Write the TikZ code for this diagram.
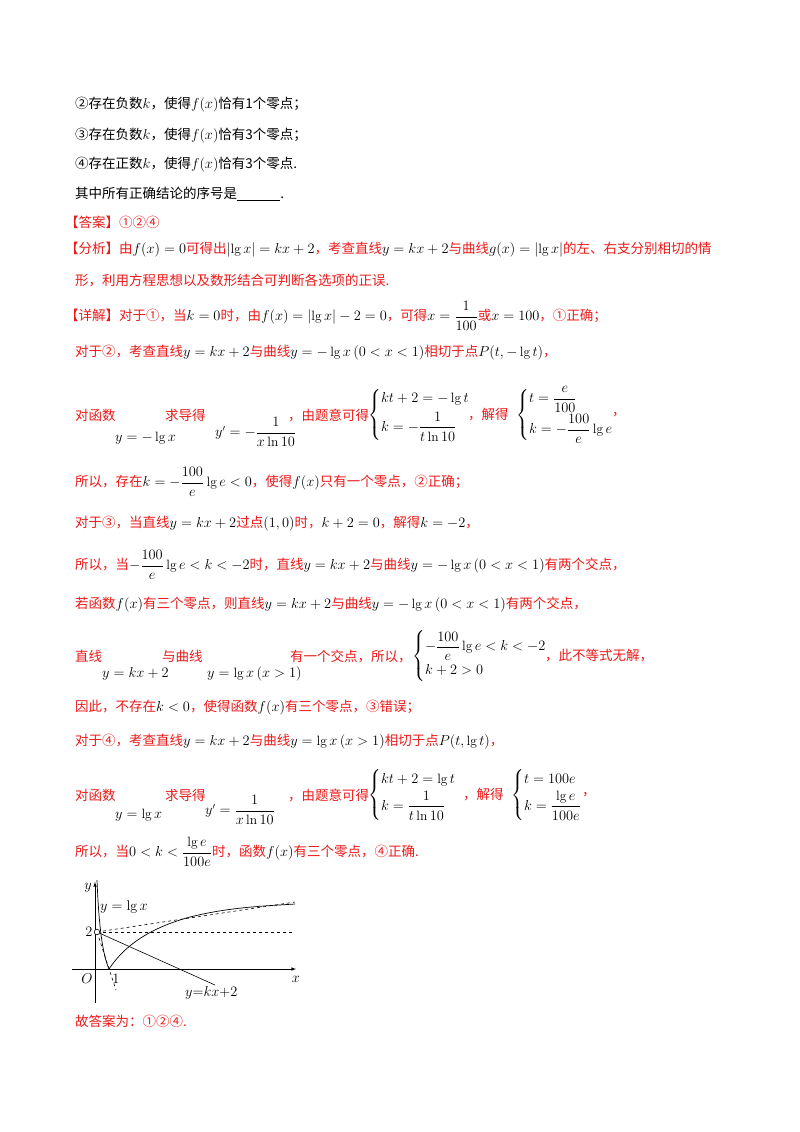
\documentclass[tikz,border=0pt]{standalone}
\usepackage{amsmath}
\usepackage{fontspec}
\newfontfamily\cjk{Noto Sans CJK SC}
\definecolor{rd}{RGB}{235,25,25}
\begin{document}
\begin{tikzpicture}[x=1pt,y=-1pt,
  t/.style={anchor=west,inner sep=0pt,font=\cjk\fontsize{13.5}{16}\selectfont},
  r/.style={t,text=rd},
  g/.style={font=\fontsize{14}{16}\selectfont}]
\useasboundingbox (0,0) rectangle (800,1132);
\node[t] (l1) at (75,105) {②存在负数$k$，使得$f(x)$恰有1个零点；};
\node[t] (l2) at (75,136) {③存在负数$k$，使得$f(x)$恰有3个零点；};
\node[t] (l3) at (75,165) {④存在正数$k$，使得$f(x)$恰有3个零点.};
\node[t] (l4) at (75,194) {其中所有正确结论的序号是\underline{\hspace{3.2em}}.};
\node[r] (l5) at (65,222) {【答案】①②④};
\node[r] (l6) at (65,250) {【分析】由\textcolor{black}{$f(x)=0$}可得出\textcolor{black}{$\left|\lg x\right|=kx+2$}，考查直线\textcolor{black}{$y=kx+2$}与曲线\textcolor{black}{$g(x)=\left|\lg x\right|$}的左、右支分别相切的情};
\node[r] (l7) at (75,280) {形，利用方程思想以及数形结合可判断各选项的正误.};
\node[r] (l8) at (65,316) {【详解】对于①，当\textcolor{black}{$k=0$}时，由\textcolor{black}{$f(x)=\left|\lg x\right|-2=0$}，可得\textcolor{black}{$x=\dfrac{1}{100}$}或\textcolor{black}{$x=100$}，①正确；};
\node[r] (l9) at (75,353) {对于②，考查直线\textcolor{black}{$y=kx+2$}与曲线\textcolor{black}{$y=-\lg x\,(0<x<1)$}相切于点\textcolor{black}{$P(t,-\lg t)$}，};
% block 1
\node[r] (a1) at (75,415) {对函数};
\node[t] (a2) at (115,438) {$y=-\lg x$};
\node[r] (a3) at (165,415) {求导得};
\node[t] (a4) at (215,432) {$y'=-\dfrac{1}{x\ln 10}$};
\node[r] (a5) at (288,415) {，由题意可得};
\node[t] (a6) at (368,415) {$\begin{cases}kt+2=-\lg t\\[4pt] k=-\dfrac{1}{t\ln 10}\end{cases}$};
\node[r] (a7) at (468,415) {，解得};
\node[t] (a8) at (516,415) {$\begin{cases}t=\dfrac{e}{100}\\[6pt] k=-\dfrac{100}{e}\lg e\end{cases}$};
\node[r] (a9) at (612,415) {，};
\node[r] (l10) at (75,482) {所以，存在\textcolor{black}{$k=-\dfrac{100}{e}\lg e<0$}，使得\textcolor{black}{$f(x)$}只有一个零点，②正确；};
\node[r] (l11) at (75,524) {对于③，当直线\textcolor{black}{$y=kx+2$}过点\textcolor{black}{$(1,0)$}时，\textcolor{black}{$k+2=0$}，解得\textcolor{black}{$k=-2$}，};
\node[r] (l12) at (75,565) {所以，当\textcolor{black}{$-\dfrac{100}{e}\lg e<k<-2$}时，直线\textcolor{black}{$y=kx+2$}与曲线\textcolor{black}{$y=-\lg x\,(0<x<1)$}有两个交点，};
\node[r] (l13) at (75,605) {若函数\textcolor{black}{$f(x)$}有三个零点，则直线\textcolor{black}{$y=kx+2$}与曲线\textcolor{black}{$y=-\lg x\,(0<x<1)$}有两个交点，};
% block 2
\node[r] (b1) at (75,656) {直线};
\node[t] (b2) at (102,674) {$y=kx+2$};
\node[r] (b3) at (162,656) {与曲线};
\node[t] (b4) at (207,674) {$y=\lg x\,(x>1)$};
\node[r] (b5) at (290,656) {有一个交点，所以，};
\node[t] (b6) at (412,656) {$\begin{cases}-\dfrac{100}{e}\lg e<k<-2\\[2pt] k+2>0\end{cases}$};
\node[r] (b7) at (545,656) {，此不等式无解，};
\node[r] (l14) at (75,708) {因此，不存在\textcolor{black}{$k<0$}，使得函数\textcolor{black}{$f(x)$}有三个零点，③错误；};
\node[r] (l15) at (75,742) {对于④，考查直线\textcolor{black}{$y=kx+2$}与曲线\textcolor{black}{$y=\lg x\,(x>1)$}相切于点\textcolor{black}{$P(t,\lg t)$}，};
% block 3
\node[r] (c1) at (75,795) {对函数};
\node[t] (c2) at (115,815) {$y=\lg x$};
\node[r] (c3) at (165,795) {求导得};
\node[t] (c4) at (205,810) {$y'=\dfrac{1}{x\ln 10}$};
\node[r] (c5) at (288,795) {，由题意可得};
\node[t] (c6) at (368,795) {$\begin{cases}kt+2=\lg t\\[2pt] k=\dfrac{1}{t\ln 10}\end{cases}$};
\node[r] (c7) at (463,795) {，解得};
\node[t] (c8) at (511,795) {$\begin{cases}t=100e\\[2pt] k=\dfrac{\lg e}{100e}\end{cases}$};
\node[r] (c9) at (582,795) {，};
\node[r] (l16) at (75,852) {所以，当\textcolor{black}{$0<k<\dfrac{\lg e}{100e}$}时，函数\textcolor{black}{$f(x)$}有三个零点，④正确.};
% graph
\coordinate (P2) at (97,932);
\coordinate (C) at (109,969);
\draw[-latex,line width=0.6pt] (72,969) -- (296,969);
\draw[-latex,line width=0.6pt] (95,1003) -- (95,882);
\draw[dashed,line width=0.6pt] (P2) -- (295,902);
\draw[dashed,line width=0.6pt] (P2) -- (292,932);
\draw[dashed,line width=0.6pt] (P2) -- (116,990);
\draw[line width=0.6pt] (P2) -- (215,985);
\draw[line width=0.7pt] (97,880) .. controls (99,930) and (103,955) .. (C)
  .. controls (125,945) and (150,928) .. (190,917) .. controls (230,907) and (265,906) .. (295,904);
\draw[fill=white,line width=0.6pt] (P2) circle (2.8);
\node[g] (ly) at (88,888) {$y$};
\node[g,anchor=west,inner sep=0pt] (lf) at (100,907) {$y=\lg x$};
\node[g] (l2g) at (89,932) {$2$};
\node[g] (lO) at (87,979) {$O$};
\node[g] (l1g) at (116,979) {$1$};
\node[g] (lx) at (296,979) {$x$};
\node[g,anchor=west,inner sep=0pt] (lk) at (185,993) {$y{=}kx{+}2$};
\node[r] (l17) at (75,1021) {故答案为：①②④.};
\end{tikzpicture}
\end{document}
